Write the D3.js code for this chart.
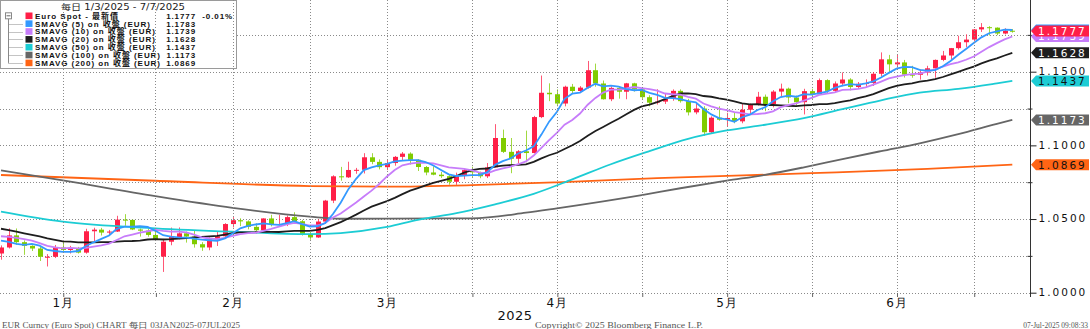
<!DOCTYPE html>
<html>
<head>
<meta charset="utf-8">
<script src="https://cdn.jsdelivr.net/npm/d3@7"></script>
<style>
  body { margin: 0; background: #fff; }
  svg { display: block; }
  .ax text { font-family: "DejaVu Sans", sans-serif; }
</style>
</head>
<body>
<svg id="chart"></svg>
<script>
// EUR spot daily candles 03JAN2025 - 07JUL2025 (index = trading day)
var open = [1.0266,1.0307,1.0389,1.0343,1.0318,1.0300,1.0244,1.0244,1.0307,1.0290,1.0301,1.0272,1.0417,1.0428,1.0408,1.0415,1.0496,1.0494,1.0429,1.0421,
  1.0392,1.0245,1.0346,1.0378,1.0403,1.0381,1.0329,1.0307,1.0361,1.0383,1.0466,1.0492,1.0484,1.0447,1.0424,1.0504,1.0460,1.0466,1.0513,1.0485,
  1.0399,1.0375,1.0483,1.0625,1.0790,1.0783,1.0833,1.0834,1.0919,1.0888,1.0852,1.0880,1.0922,1.0944,1.0902,1.0853,1.0816,1.0801,1.0791,1.0753,
  1.0799,1.0832,1.0817,1.0790,1.0851,1.1050,1.0956,1.0909,1.0960,1.0948,1.1192,1.1357,1.1347,1.1284,1.1398,1.1369,1.1392,1.1510,1.1420,1.1313,
  1.1390,1.1364,1.1421,1.1380,1.1327,1.1290,1.1297,1.1315,1.1370,1.1300,1.1224,1.1250,1.1089,1.1188,1.1174,1.1186,1.1163,1.1242,1.1280,1.1330,
  1.1281,1.1365,1.1385,1.1325,1.1293,1.1368,1.1347,1.1443,1.1370,1.1420,1.1447,1.1396,1.1418,1.1423,1.1486,1.1584,1.1550,1.1563,1.1480,1.1479,
  1.1494,1.1523,1.1580,1.1610,1.1660,1.1700,1.1718,1.1787,1.1802,1.1799,1.1759,1.1778];
var high = [1.0321,1.0437,1.0436,1.0355,1.0322,1.0314,1.0262,1.0324,1.0354,1.0318,1.0311,1.0434,1.0441,1.0440,1.0426,1.0522,1.0533,1.0496,1.0436,1.0436,
  1.0415,1.0365,1.0442,1.0443,1.0415,1.0424,1.0343,1.0375,1.0414,1.0472,1.0513,1.0505,1.0491,1.0471,1.0505,1.0529,1.0528,1.0524,1.0546,1.0494,
  1.0420,1.0499,1.0630,1.0797,1.0854,1.0889,1.0847,1.0947,1.0947,1.0905,1.0907,1.0928,1.0955,1.0953,1.0907,1.0860,1.0858,1.0820,1.0800,1.0815,
  1.0839,1.0855,1.0822,1.0880,1.1144,1.1107,1.1050,1.0968,1.1100,1.1200,1.1474,1.1421,1.1380,1.1405,1.1417,1.1402,1.1573,1.1555,1.1440,1.1400,
  1.1396,1.1424,1.1425,1.1384,1.1340,1.1381,1.1349,1.1380,1.1380,1.1316,1.1290,1.1266,1.1197,1.1265,1.1221,1.1226,1.1287,1.1284,1.1363,1.1345,
  1.1375,1.1419,1.1392,1.1338,1.1384,1.1384,1.1454,1.1449,1.1434,1.1495,1.1456,1.1430,1.1448,1.1498,1.1631,1.1614,1.1614,1.1580,1.1540,1.1516,
  1.1540,1.1583,1.1641,1.1661,1.1744,1.1754,1.1790,1.1830,1.1809,1.1801,1.1795,1.1790];
var low = [1.0224,1.0300,1.0326,1.0257,1.0283,1.0215,1.0178,1.0235,1.0272,1.0266,1.0266,1.0265,1.0340,1.0388,1.0387,1.0412,1.0454,1.0425,1.0381,1.0380,
  1.0352,1.0141,1.0322,1.0362,1.0340,1.0306,1.0284,1.0288,1.0317,1.0364,1.0443,1.0452,1.0430,1.0400,1.0420,1.0450,1.0455,1.0452,1.0477,1.0388,
  1.0359,1.0372,1.0470,1.0608,1.0760,1.0779,1.0807,1.0809,1.0872,1.0837,1.0832,1.0862,1.0901,1.0870,1.0826,1.0797,1.0797,1.0779,1.0733,1.0732,
  1.0770,1.0778,1.0777,1.0778,1.0850,1.0948,1.0811,1.0877,1.0885,1.0945,1.1185,1.1300,1.1265,1.1265,1.1355,1.1360,1.1385,1.1398,1.1311,1.1300,
  1.1317,1.1313,1.1365,1.1310,1.1265,1.1277,1.1281,1.1303,1.1290,1.1203,1.1211,1.1065,1.1079,1.1167,1.1131,1.1150,1.1150,1.1207,1.1270,1.1232,
  1.1258,1.1331,1.1286,1.1269,1.1210,1.1315,1.1345,1.1356,1.1357,1.1401,1.1373,1.1385,1.1395,1.1403,1.1468,1.1490,1.1528,1.1460,1.1459,1.1446,
  1.1474,1.1459,1.1571,1.1583,1.1650,1.1667,1.1708,1.1770,1.1746,1.1748,1.1753,1.1765];
var close = [1.0307,1.0389,1.0343,1.0318,1.0300,1.0244,1.0244,1.0307,1.0290,1.0301,1.0272,1.0417,1.0428,1.0408,1.0415,1.0496,1.0494,1.0429,1.0421,1.0392,
  1.0362,1.0346,1.0378,1.0403,1.0381,1.0329,1.0307,1.0361,1.0383,1.0466,1.0492,1.0484,1.0447,1.0424,1.0504,1.0460,1.0466,1.0513,1.0485,1.0399,
  1.0375,1.0483,1.0625,1.0790,1.0783,1.0833,1.0834,1.0919,1.0888,1.0852,1.0880,1.0922,1.0944,1.0902,1.0853,1.0816,1.0801,1.0791,1.0753,1.0799,
  1.0832,1.0817,1.0790,1.0851,1.1050,1.0956,1.0909,1.0960,1.0948,1.1192,1.1357,1.1347,1.1284,1.1398,1.1369,1.1392,1.1510,1.1420,1.1313,1.1390,
  1.1364,1.1421,1.1380,1.1327,1.1290,1.1297,1.1315,1.1370,1.1300,1.1224,1.1250,1.1089,1.1188,1.1174,1.1186,1.1163,1.1242,1.1280,1.1330,1.1281,
  1.1365,1.1385,1.1325,1.1293,1.1368,1.1347,1.1443,1.1370,1.1420,1.1447,1.1396,1.1418,1.1423,1.1486,1.1584,1.1550,1.1563,1.1480,1.1479,1.1494,
  1.1523,1.1580,1.1610,1.1660,1.1700,1.1718,1.1787,1.1802,1.1799,1.1759,1.1778,1.1777];

// moving averages, one value per trading day
var sma5 = [1.0353,1.0345,1.0332,1.0325,1.0331,1.0319,1.0290,1.0283,1.0277,1.0277,1.0283,1.0317,1.0342,1.0365,1.0388,1.0433,1.0448,1.0448,1.0451,1.0446,
  1.0420,1.0390,1.0380,1.0376,1.0374,1.0367,1.0360,1.0356,1.0352,1.0369,1.0402,1.0437,1.0454,1.0463,1.0470,1.0464,1.0460,1.0473,1.0486,1.0465,
  1.0448,1.0451,1.0473,1.0534,1.0611,1.0703,1.0773,1.0832,1.0851,1.0865,1.0875,1.0892,1.0897,1.0900,1.0900,1.0887,1.0863,1.0833,1.0803,1.0792,
  1.0795,1.0798,1.0798,1.0818,1.0868,1.0893,1.0911,1.0945,1.0965,1.0993,1.1073,1.1161,1.1226,1.1316,1.1351,1.1358,1.1391,1.1418,1.1401,1.1405,
  1.1399,1.1382,1.1374,1.1376,1.1356,1.1343,1.1322,1.1320,1.1314,1.1301,1.1292,1.1247,1.1210,1.1185,1.1177,1.1160,1.1191,1.1209,1.1240,1.1259,
  1.1300,1.1328,1.1337,1.1330,1.1347,1.1344,1.1355,1.1364,1.1390,1.1405,1.1415,1.1410,1.1421,1.1434,1.1461,1.1492,1.1521,1.1533,1.1531,1.1513,
  1.1508,1.1511,1.1537,1.1573,1.1615,1.1654,1.1695,1.1733,1.1761,1.1773,1.1785,1.1783];
var sma10 = [1.0383,1.0379,1.0372,1.0364,1.0354,1.0336,1.0318,1.0307,1.0301,1.0304,1.0301,1.0304,1.0312,1.0321,1.0333,1.0358,1.0383,1.0395,1.0408,1.0417,
  1.0426,1.0419,1.0414,1.0414,1.0410,1.0394,1.0375,1.0368,1.0364,1.0372,1.0385,1.0398,1.0405,1.0407,1.0420,1.0433,1.0449,1.0464,1.0474,1.0467,
  1.0456,1.0456,1.0473,1.0510,1.0538,1.0575,1.0612,1.0653,1.0693,1.0738,1.0789,1.0833,1.0865,1.0876,1.0883,1.0881,1.0878,1.0865,1.0851,1.0846,
  1.0841,1.0831,1.0815,1.0810,1.0830,1.0844,1.0855,1.0872,1.0891,1.0931,1.0983,1.1036,1.1085,1.1140,1.1172,1.1216,1.1276,1.1322,1.1358,1.1378,
  1.1379,1.1386,1.1396,1.1389,1.1381,1.1371,1.1352,1.1347,1.1345,1.1329,1.1317,1.1284,1.1265,1.1250,1.1239,1.1226,1.1219,1.1210,1.1213,1.1218,
  1.1230,1.1259,1.1273,1.1285,1.1303,1.1322,1.1342,1.1351,1.1360,1.1376,1.1379,1.1383,1.1393,1.1412,1.1433,1.1454,1.1466,1.1477,1.1483,1.1487,
  1.1500,1.1516,1.1535,1.1552,1.1564,1.1581,1.1603,1.1635,1.1667,1.1694,1.1719,1.1739];
var sma20 = [1.0434,1.0425,1.0414,1.0403,1.0393,1.0382,1.0369,1.0359,1.0349,1.0346,1.0342,1.0341,1.0342,1.0343,1.0343,1.0347,1.0350,1.0351,1.0354,1.0361,
  1.0364,1.0361,1.0363,1.0367,1.0371,1.0376,1.0379,1.0382,1.0386,1.0394,1.0405,1.0409,1.0410,1.0411,1.0415,1.0413,1.0412,1.0416,1.0419,1.0420,
  1.0420,1.0427,1.0439,1.0459,1.0479,1.0504,1.0530,1.0558,1.0584,1.0603,1.0622,1.0644,1.0669,1.0693,1.0710,1.0728,1.0745,1.0759,1.0772,1.0792,
  1.0815,1.0832,1.0840,1.0843,1.0856,1.0863,1.0866,1.0868,1.0871,1.0888,1.0912,1.0933,1.0950,1.0975,1.1001,1.1030,1.1065,1.1097,1.1125,1.1154,
  1.1181,1.1211,1.1241,1.1264,1.1276,1.1293,1.1314,1.1334,1.1352,1.1353,1.1348,1.1335,1.1330,1.1319,1.1310,1.1299,1.1285,1.1278,1.1279,1.1274,
  1.1274,1.1272,1.1269,1.1267,1.1271,1.1274,1.1280,1.1280,1.1286,1.1297,1.1305,1.1321,1.1333,1.1348,1.1368,1.1388,1.1404,1.1414,1.1421,1.1432,
  1.1440,1.1450,1.1464,1.1482,1.1499,1.1517,1.1534,1.1556,1.1575,1.1591,1.1610,1.1628];

var sma50 = [[0,1.0550],[8,1.0482],[20,1.0437],[30,1.0414],[40,1.0398],[44,1.0405],[50,1.0446],[54,1.0495],[59,1.0540],[64,1.0600],[69,1.0671],
  [74,1.0769],[79,1.0872],[84,1.0961],[89,1.1044],[94,1.1101],[99,1.1140],[104,1.1185],[109,1.1246],[114,1.1306],[119,1.1358],[124,1.1384],[129,1.1421],[131,1.1437]];
var sma100 = [[0,1.0830],[8,1.0762],[20,1.0655],[30,1.0576],[40,1.0516],[44,1.0502],[50,1.0503],[61,1.0505],[68,1.0543],[72,1.0573],[83,1.0663],
  [88,1.0709],[94,1.0760],[99,1.0800],[104,1.0851],[109,1.0907],[114,1.0961],[119,1.1014],[124,1.1076],[129,1.1146],[131,1.1173]];
var sma200 = [[0,1.0799],[20,1.0760],[40,1.0724],[50,1.0720],[61,1.0730],[72,1.0749],[85,1.0777],[105,1.0811],[120,1.0840],[131,1.0869]];

var gridDays = [8,20,30,40,50,61,72,83,94,105,116,126];
var monthDays = [8,30,50,72,94,116];
var monthNames = ["1月","2月","3月","4月","5月","6月"];
var priceTicks = [1.0,1.05,1.1,1.15];
var gridPrices = [1.0,1.025,1.05,1.075,1.1,1.125,1.15,1.175];

var legendNames = ["Euro Spot - 最新價","SMAVG (5) on 收盤 (EUR)","SMAVG (10) on 收盤 (EUR)","SMAVG (20) on 收盤 (EUR)",
  "SMAVG (50) on 收盤 (EUR)","SMAVG (100) on 收盤 (EUR)","SMAVG (200) on 收盤 (EUR)"];
var legendValues = [1.1777,1.1783,1.1739,1.1628,1.1437,1.1173,1.0869];
var legendColors = ["#ff1f47","#3399ff","#c77dfa","#1e1e1e","#1cccd4","#666666","#ff6414"];
var tagText = ["#fff","#fff","#fff","#fff","#111","#fff","#111"];

var W = 1090, H = 329;
var plotRight = 1030.5, plotBottom = 297;
var upColor = "#ff1f47", downColor = "#80cc00";
var gridColor = "#8a8a8a";

var svg = d3.select("#chart").attr("width",W).attr("height",H);

var x = d3.scaleLinear().domain([0,131]).range([1,1012.3]);
var y = d3.scaleLinear().domain([1.0,1.15]).range([292.7,71.7]);

// dotted grid
var grid = svg.append("g");
grid.selectAll("line.h").data(gridPrices).enter().append("line")
  .attr("x1",0).attr("x2",plotRight)
  .attr("y1",function(d){return Math.round(y(d))+0.5;})
  .attr("y2",function(d){return Math.round(y(d))+0.5;})
  .attr("stroke",gridColor).attr("stroke-dasharray","1,2");

// candles
var days = d3.range(close.length);
var candles = svg.append("g");
candles.selectAll("line").data(days).enter().append("line")
  .attr("x1",function(i){return Math.round(x(i))+0.5;})
  .attr("x2",function(i){return Math.round(x(i))+0.5;})
  .attr("y1",function(i){return y(high[i]);})
  .attr("y2",function(i){return y(low[i]);})
  .attr("stroke",function(i){return close[i]>=open[i]?upColor:downColor;})
  .attr("stroke-opacity",0.75);
candles.selectAll("rect").data(days).enter().append("rect")
  .attr("x",function(i){return Math.round(x(i))-2;})
  .attr("width",5)
  .attr("y",function(i){return y(Math.max(open[i],close[i]));})
  .attr("height",function(i){return Math.max(1,Math.abs(y(open[i])-y(close[i])));})
  .attr("fill",function(i){return close[i]>=open[i]?upColor:downColor;});

// moving average lines
var daily = d3.line().x(function(d,i){return x(i);}).y(function(d){return y(d);});
var sparse = d3.line().x(function(d){return x(d[0]);}).y(function(d){return y(d[1]);}).curve(d3.curveMonotoneX);
var lines = svg.append("g").attr("fill","none").attr("stroke-width",1.8);
lines.append("path").attr("d",sparse(sma200)).attr("stroke",legendColors[6]);
lines.append("path").attr("d",sparse(sma100)).attr("stroke",legendColors[5]);
lines.append("path").attr("d",sparse(sma50)).attr("stroke",legendColors[4]);
lines.append("path").attr("d",daily(sma20)).attr("stroke",legendColors[3]);
lines.append("path").attr("d",daily(sma10)).attr("stroke",legendColors[2]);
lines.append("path").attr("d",daily(sma5)).attr("stroke",legendColors[1]);

// legend
var lg = svg.append("g");
lg.append("rect").attr("x",0.5).attr("y",0.5).attr("width",236).attr("height",68)
  .attr("fill","#fff").attr("stroke","#9a9a9a");
lg.append("text").attr("x",123).attr("y",9.5).attr("text-anchor","middle")
  .attr("font-family","DejaVu Sans, 'Noto Sans CJK TC'").attr("font-size",8.5).attr("fill","#222")
  .attr("textLength",124).attr("lengthAdjust","spacingAndGlyphs")
  .text("每日 1/3/2025 - 7/7/2025");
var rowY = function(k){return 15.8+k*7.85;};
lg.append("line").attr("x1",8.5).attr("x2",8.5).attr("y1",rowY(0)+3).attr("y2",rowY(6))
  .attr("stroke","#888");
lg.append("rect").attr("x",5.5).attr("y",rowY(0)-3).attr("width",6).attr("height",6)
  .attr("fill","#fff").attr("stroke","#888");
lg.append("line").attr("x1",6.5).attr("x2",10.5).attr("y1",rowY(0)).attr("y2",rowY(0)).attr("stroke","#666");
var nameLen = [92,124,129,129,129,134,134];
legendNames.forEach(function(name,k){
  var ry = rowY(k);
  if(k>0){
    lg.append("line").attr("x1",8.5).attr("x2",23).attr("y1",Math.round(ry)+0.5).attr("y2",Math.round(ry)+0.5)
      .attr("stroke","#888").attr("stroke-dasharray","1,1");
  }
  lg.append("rect").attr("x",25.5).attr("y",ry-3.3).attr("width",7).attr("height",6.6)
    .attr("fill",legendColors[k]);
  lg.append("text").attr("x",35).attr("y",ry+2.9)
    .attr("font-family","'Liberation Sans', 'Noto Sans CJK TC'").attr("font-size",8).attr("font-weight","bold")
    .attr("fill","#111").attr("textLength",nameLen[k]-9).attr("lengthAdjust","spacing")
    .text(name);
  lg.append("text").attr("x",196).attr("y",ry+2.9).attr("text-anchor","end")
    .attr("font-family","'Liberation Sans'").attr("font-size",8).attr("font-weight","bold").attr("fill","#111")
    .attr("letter-spacing",0.9)
    .text(d3.format(".4f")(legendValues[k]));
});
lg.append("text").attr("x",233).attr("y",rowY(0)+2.9).attr("text-anchor","end")
  .attr("font-family","'Liberation Sans'").attr("font-size",8).attr("font-weight","bold").attr("fill","#111")
  .attr("letter-spacing",0.9)
  .text("-0.01%");

// vertical grid (drawn over legend like the original)
svg.append("g").selectAll("line").data(gridDays).enter().append("line")
  .attr("x1",function(i){return Math.round(x(i))+0.5;})
  .attr("x2",function(i){return Math.round(x(i))+0.5;})
  .attr("y1",0).attr("y2",292.7)
  .attr("stroke",gridColor).attr("stroke-dasharray","1,2");

// x axis ticks and month labels
var xTicks = svg.append("g").attr("class","ax").attr("transform","translate(0.5,"+293+")")
  .call(d3.axisBottom(x).tickValues(gridDays).tickSize(4).tickFormat(""));
xTicks.select(".domain").remove();
xTicks.selectAll("line").attr("stroke","#666");
var xLab = svg.append("g").attr("class","ax").attr("transform","translate(0,"+293+")")
  .call(d3.axisBottom(x).tickValues(monthDays).tickSize(0).tickPadding(5)
    .tickFormat(function(d,i){return monthNames[i];}));
xLab.select(".domain").remove();
xLab.selectAll("text").attr("font-size",12).attr("fill","#111")
  .attr("font-family","DejaVu Sans, 'Noto Sans CJK TC'").attr("letter-spacing",1);
svg.append("text").attr("x",515).attr("y",320).attr("text-anchor","middle")
  .attr("font-family","DejaVu Sans").attr("font-size",13).attr("fill","#111").attr("letter-spacing",0.5)
  .text("2025");

// right price axis
svg.append("line").attr("x1",plotRight).attr("x2",plotRight).attr("y1",0).attr("y2",plotBottom)
  .attr("stroke","#333");
var minor = svg.append("g").attr("transform","translate("+(plotRight-3)+",0)")
  .call(d3.axisRight(y).tickValues([1.025,1.075,1.125,1.175]).tickSize(5).tickFormat(""));
minor.select(".domain").remove();
minor.selectAll("line").attr("stroke","#333");
var yAx = svg.append("g").attr("class","ax").attr("transform","translate("+plotRight+",0)")
  .call(d3.axisRight(y).tickValues(priceTicks).tickSize(6).tickPadding(2).tickFormat(d3.format(".4f")));
yAx.select(".domain").remove();
yAx.selectAll("line").attr("stroke","#222");
yAx.selectAll("text").attr("font-size",10.5).attr("fill","#111").attr("letter-spacing",2)
  .attr("dy","0.28em");

// last value tags on the axis (SMAVG 5 tag sits fully under the spot tag)
var tagOrder = [6,5,4,3,2,1,0];
var tags = svg.append("g");
tagOrder.forEach(function(k){
  var v = legendValues[k], yc = y(v);
  tags.append("path")
    .attr("d","M"+(plotRight+0.5)+","+yc+"L"+(plotRight+5.5)+","+(yc-5.5)+"L1089,"+(yc-5.5)+"L1089,"+(yc+5.5)+"L"+(plotRight+5.5)+","+(yc+5.5)+"Z")
    .attr("fill",legendColors[k]);
  if(k==1) return;
  tags.append("text").attr("x",1038).attr("y",yc+4)
    .attr("font-family","DejaVu Sans").attr("font-size",10.5).attr("letter-spacing",2)
    .attr("fill",tagText[k]).text(d3.format(".4f")(v));
});

// footer
var foot = svg.append("g").attr("font-family","Liberation Serif, serif").attr("font-size",7.5).attr("fill","#555");
foot.append("text").attr("x",2).attr("y",328).attr("textLength",238).attr("lengthAdjust","spacingAndGlyphs")
  .text("EUR Curncy (Euro Spot) CHART  每日 03JAN2025-07JUL2025");
foot.append("text").attr("x",535).attr("y",328).attr("textLength",168).attr("lengthAdjust","spacingAndGlyphs")
  .text("Copyright© 2025 Bloomberg Finance L.P.");
foot.append("text").attr("x",1088).attr("y",328).attr("text-anchor","end")
  .text("07-Jul-2025 09:08:33");
</script>
</body>
</html>
